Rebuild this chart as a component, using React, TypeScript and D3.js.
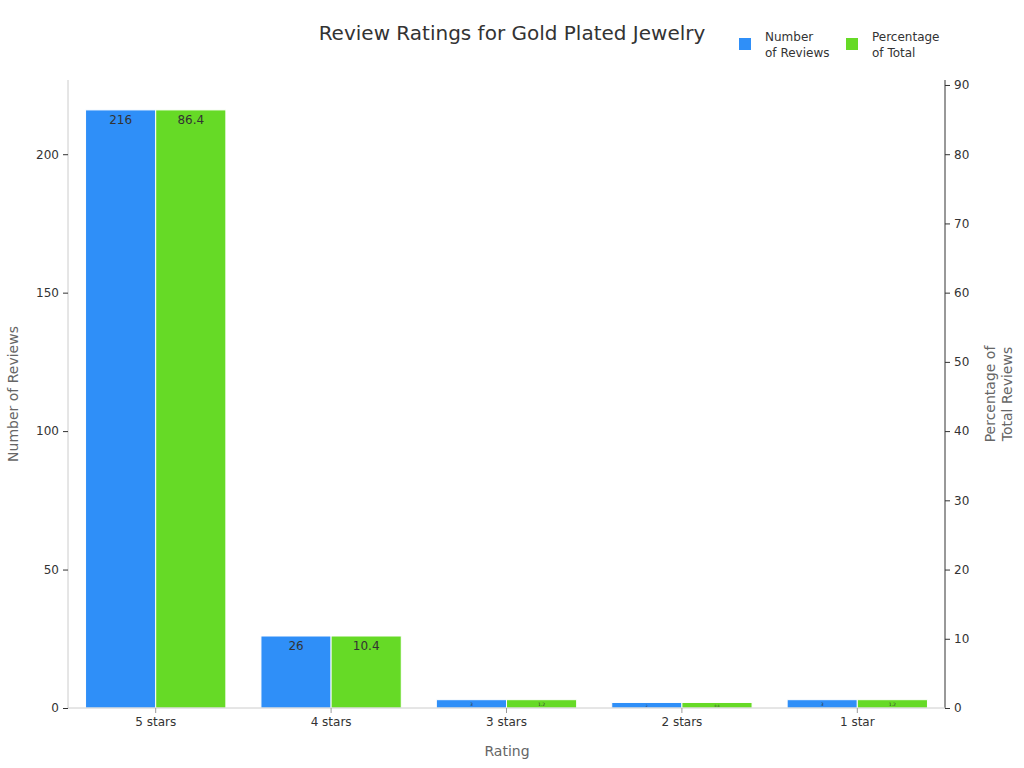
import * as d3 from 'd3';
import { useEffect, useRef } from 'react';

const ratings = ['5 stars', '4 stars', '3 stars', '2 stars', '1 star'];
const reviewCounts = [216, 26, 3, 2, 3];
const reviewPercents = [86.4, 10.4, 1.2, 0.8, 1.2];
const leftTicks = [0, 50, 100, 150, 200];
const rightTicks = [0, 10, 20, 30, 40, 50, 60, 70, 80, 90];

const BLUE = '#2f8ff8';
const GREEN = '#66da26';

const App = () => {
  const ref = useRef<SVGSVGElement | null>(null);

  useEffect(() => {
    const svg = d3.select(ref.current);
    svg.selectAll('*').remove();

    const left = 68, right = 945, top = 80, bottom = 708;
    const font = 'DejaVu Sans, sans-serif';

    const x = d3.scaleBand().domain(ratings).range([left, right]).paddingInner(0.2).paddingOuter(0.1);
    const sub = d3.scaleBand().domain(['count', 'pct']).range([0, x.bandwidth()]);
    const yL = d3.scaleLinear().domain([0, d3.max(reviewCounts)! * 1.05]).range([bottom, top]);
    const yR = d3.scaleLinear().domain([0, d3.max(reviewPercents)! * 1.05]).range([bottom, top]);

    // title
    svg.append('text')
      .attr('x', 512).attr('y', 40)
      .attr('text-anchor', 'middle')
      .attr('font-family', font).attr('font-size', 20).attr('fill', '#333')
      .text('Review Ratings for Gold Plated Jewelry');

    // legend
    const legend = [
      { color: BLUE, lines: ['Number', 'of Reviews'], x: 739 },
      { color: GREEN, lines: ['Percentage', 'of Total'], x: 846 },
    ];
    legend.forEach((l) => {
      svg.append('rect').attr('x', l.x).attr('y', 38).attr('width', 12).attr('height', 12).attr('fill', l.color);
      const t = svg.append('text')
        .attr('font-family', font).attr('font-size', 12).attr('fill', '#333');
      l.lines.forEach((s, i) => {
        t.append('tspan').attr('x', l.x + 26).attr('y', 41 + i * 16).text(s);
      });
    });

    // bars
    const drawBars = (vals: number[], key: string, y: d3.ScaleLinear<number, number>, color: string) => {
      const g = svg.append('g');
      ratings.forEach((r, i) => {
        const bx = (x(r) || 0) + (sub(key) || 0);
        const by = y(vals[i]);
        const h = bottom - by;
        g.append('rect')
          .attr('x', bx).attr('y', by)
          .attr('width', sub.bandwidth()).attr('height', h)
          .attr('fill', color).attr('stroke', '#fff').attr('stroke-width', 1);
        const fs = Math.min(12, h * 0.55);
        g.append('text')
          .attr('x', bx + sub.bandwidth() / 2)
          .attr('y', by + Math.min(14, h * 0.75))
          .attr('text-anchor', 'middle')
          .attr('font-family', font).attr('font-size', fs).attr('fill', '#333')
          .text(String(vals[i]));
      });
    };
    drawBars(reviewCounts, 'count', yL, BLUE);
    drawBars(reviewPercents, 'pct', yR, GREEN);

    // left axis
    const gL = svg.append('g').attr('transform', `translate(${left},0)`)
      .call(d3.axisLeft(yL).tickValues(leftTicks).tickSize(5).tickPadding(4));
    gL.select('.domain').attr('stroke', '#ccc').attr('d', `M0,${top}V${bottom}`);
    gL.selectAll('.tick line').attr('stroke', '#333');
    gL.selectAll('.tick text').attr('font-family', font).attr('font-size', 12).attr('fill', '#333');

    // right axis
    const gR = svg.append('g').attr('transform', `translate(${right},0)`)
      .call(d3.axisRight(yR).tickValues(rightTicks).tickSize(5).tickPadding(4));
    gR.select('.domain').attr('stroke', '#333').attr('d', `M0,${top}V${bottom}`);
    gR.selectAll('.tick line').attr('stroke', '#333');
    gR.selectAll('.tick text').attr('font-family', font).attr('font-size', 12).attr('fill', '#333');

    // bottom axis
    const gB = svg.append('g').attr('transform', `translate(0,${bottom})`)
      .call(d3.axisBottom(x).tickSize(5).tickPadding(4));
    gB.select('.domain').attr('stroke', '#ccc').attr('d', `M${left},0H${right}`);
    gB.selectAll('.tick line').attr('stroke', '#999');
    gB.selectAll('.tick text').attr('font-family', font).attr('font-size', 12).attr('fill', '#333');

    // axis titles
    svg.append('text')
      .attr('x', 507).attr('y', 756)
      .attr('text-anchor', 'middle')
      .attr('font-family', font).attr('font-size', 14).attr('fill', '#666')
      .text('Rating');
    svg.append('text')
      .attr('transform', `translate(18,394) rotate(-90)`)
      .attr('text-anchor', 'middle')
      .attr('font-family', font).attr('font-size', 14).attr('fill', '#666')
      .text('Number of Reviews');
    const rt = svg.append('text')
      .attr('transform', `translate(995,394) rotate(-90)`)
      .attr('text-anchor', 'middle')
      .attr('font-family', font).attr('font-size', 14).attr('fill', '#666');
    rt.append('tspan').attr('x', 0).attr('y', 0).text('Percentage of');
    rt.append('tspan').attr('x', 0).attr('y', 17).text('Total Reviews');
  }, []);

  return (
    <svg
      ref={ref}
      width={1024}
      height={768}
      style={{ position: 'absolute', left: 0, top: 0, background: '#fff' }}
    />
  );
};

export default App;
